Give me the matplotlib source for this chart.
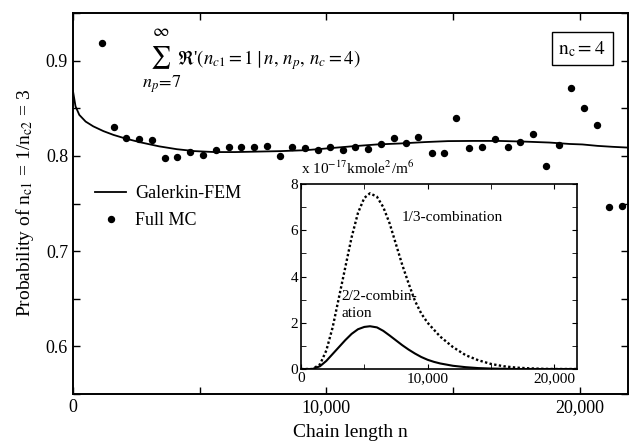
import matplotlib
matplotlib.use("Agg")
import matplotlib.pyplot as plt
from matplotlib.ticker import MultipleLocator, FuncFormatter

plt.rcParams["font.family"] = ["Liberation Serif", "DejaVu Serif"]
plt.rcParams["mathtext.fontset"] = "stix"

# Galerkin-FEM probability curve (main axes)
fem_n = [0, 100, 250, 500, 800, 1200, 1600, 2100, 2700, 3400, 4100, 4800, 5600,
         6400, 7300, 8200, 9200, 10100, 11000, 12000, 12900, 13900, 14800,
         15800, 16800, 17800, 18800, 19600, 20100, 20700, 21300, 21900]
fem_p = [0.868, 0.852, 0.843, 0.836, 0.831, 0.826, 0.822, 0.818, 0.814, 0.810,
         0.807, 0.805, 0.804, 0.804, 0.8045, 0.805, 0.806, 0.808, 0.810, 0.812,
         0.813, 0.8145, 0.8155, 0.8157, 0.8157, 0.815, 0.814, 0.8125, 0.812,
         0.8105, 0.8095, 0.8087]

# Full Monte Carlo points
mc_n = [1130, 1630, 2110, 2610, 3120, 3620, 4110, 4630, 5130, 5630, 6140, 6640,
        7140, 7650, 8150, 8650, 9160, 9650, 10150, 10640, 11140, 11640, 12150,
        12650, 13140, 13630, 14150, 14650, 15130, 15630, 16130, 16650, 17160,
        17660, 18150, 18670, 19170, 19660, 20160, 20660, 21170, 21660]
mc_p = [0.919, 0.830, 0.819, 0.8175, 0.817, 0.798, 0.799, 0.804, 0.801, 0.806,
        0.809, 0.809, 0.809, 0.8105, 0.800, 0.809, 0.808, 0.806, 0.809, 0.806,
        0.809, 0.807, 0.812, 0.8185, 0.813, 0.820, 0.8025, 0.8035, 0.8395,
        0.808, 0.809, 0.818, 0.8095, 0.815, 0.8225, 0.7895, 0.811, 0.871,
        0.8505, 0.832, 0.7465, 0.7475]

# inset: concentrations (x 1e-17 kmole^2/m^6)
ins_n = [0, 900, 1500, 2000, 2500, 3000, 3500, 4000, 4500, 5000, 5450, 6000,
         6500, 7000, 7500, 8000, 8500, 9000, 9500, 10000, 10500, 11000, 12000,
         13000, 14000, 15000, 16000, 17000, 18000, 19000, 20000, 21800]
comb13 = [0, 0, 0.2, 0.8, 1.8, 3.1, 4.4, 5.7, 6.75, 7.4, 7.6, 7.45, 7.0, 6.3,
          5.4, 4.5, 3.7, 2.95, 2.4, 2.0, 1.7, 1.4, 0.95, 0.6, 0.38, 0.22, 0.12,
          0.06, 0.03, 0.01, 0, 0]
comb22 = [0, 0, 0.12, 0.35, 0.65, 0.95, 1.25, 1.52, 1.72, 1.82, 1.85, 1.8,
          1.65, 1.45, 1.24, 1.03, 0.84, 0.67, 0.52, 0.4, 0.31, 0.24, 0.14, 0.08,
          0.04, 0.02, 0.01, 0, 0, 0, 0, 0]

thousands = FuncFormatter(lambda v, p: f"{int(v):,}")

fig = plt.figure(figsize=(6.33, 4.48), dpi=100)
ax = fig.add_axes([0.1153, 0.1205, 0.8767, 0.8505])

ax.plot(fem_n, fem_p, color="black", lw=1.3, label="Galerkin-FEM")
ax.plot(mc_n, mc_p, "o", color="black", ms=4.3, label="Full MC")

ax.set_xlim(0, 21900)
ax.set_ylim(0.55, 0.95)
ax.xaxis.set_major_locator(MultipleLocator(10000))
ax.xaxis.set_minor_locator(MultipleLocator(5000))
ax.xaxis.set_major_formatter(thousands)
ax.yaxis.set_major_locator(MultipleLocator(0.1))
ax.yaxis.set_minor_locator(MultipleLocator(0.05))
ax.yaxis.set_major_formatter(FuncFormatter(lambda v, p: f"{v:.1f}"))
ax.tick_params(which="both", direction="in", top=True, right=True,
               labelsize=13, width=1.0, length=5)
for s in ax.spines.values():
    s.set_linewidth(1.4)

ax.set_xlabel("Chain length n", fontsize=14, labelpad=6)
ax.set_ylabel(r"Probability of n$_{\mathrm{c1}}$ = 1/n$_{\mathrm{c2}}$ = 3",
              fontsize=14, labelpad=7)

ax.legend(loc="upper left", bbox_to_anchor=(0.01, 0.59), frameon=False,
          fontsize=13, handlelength=1.75, handletextpad=0.5, labelspacing=0.55)

# summation annotation
ax.text(0.157, 0.882, r"$\sum$", transform=ax.transAxes, fontsize=16,
        ha="center", va="center")
ax.text(0.158, 0.952, r"$\infty$", transform=ax.transAxes, fontsize=13,
        ha="center", va="center")
ax.text(0.160, 0.812, r"$n_p\!=\!7$", transform=ax.transAxes, fontsize=13,
        ha="center", va="center")
ax.text(0.187, 0.876, r"$\Re$'$(n_{c1} = 1\mid n,\, n_p,\, n_c = 4)$",
        transform=ax.transAxes, fontsize=13.5, ha="left", va="center")

ax.text(0.96, 0.906, r"$\mathrm{n_c} = 4$", transform=ax.transAxes,
        fontsize=14, ha="right", va="center",
        bbox=dict(boxstyle="square,pad=0.35", fc="white", ec="black", lw=1.0))

# inset
ins = fig.add_axes([0.4755, 0.1763, 0.436, 0.4129])
ins.plot(ins_n, comb13, color="black", lw=1.7, ls=(0, (1, 1.0)))
ins.plot(ins_n, comb22, color="black", lw=1.5)
ins.set_xlim(0, 21800)
ins.set_ylim(0, 8)
ins.xaxis.set_major_locator(MultipleLocator(10000))
ins.xaxis.set_minor_locator(MultipleLocator(5000))
ins.xaxis.set_major_formatter(thousands)
ins.yaxis.set_major_locator(MultipleLocator(2))
ins.yaxis.set_minor_locator(MultipleLocator(1))
ins.tick_params(which="both", direction="in", top=True, right=True,
                labelsize=11, length=3.5, pad=2)
for s in ins.spines.values():
    s.set_linewidth(1.2)
ins.text(0.0, 1.04, r"x 10$^{-17}$kmole$^2$/m$^6$", transform=ins.transAxes,
         fontsize=11, va="bottom", ha="left")
ins.text(0.365, 0.82, "1/3-combination", transform=ins.transAxes,
         fontsize=11, va="center")
ins.text(0.148, 0.345, "2/2-combin-\nation", transform=ins.transAxes,
         fontsize=11, va="center", linespacing=1.45)

fig.savefig("out.png", dpi=100)
